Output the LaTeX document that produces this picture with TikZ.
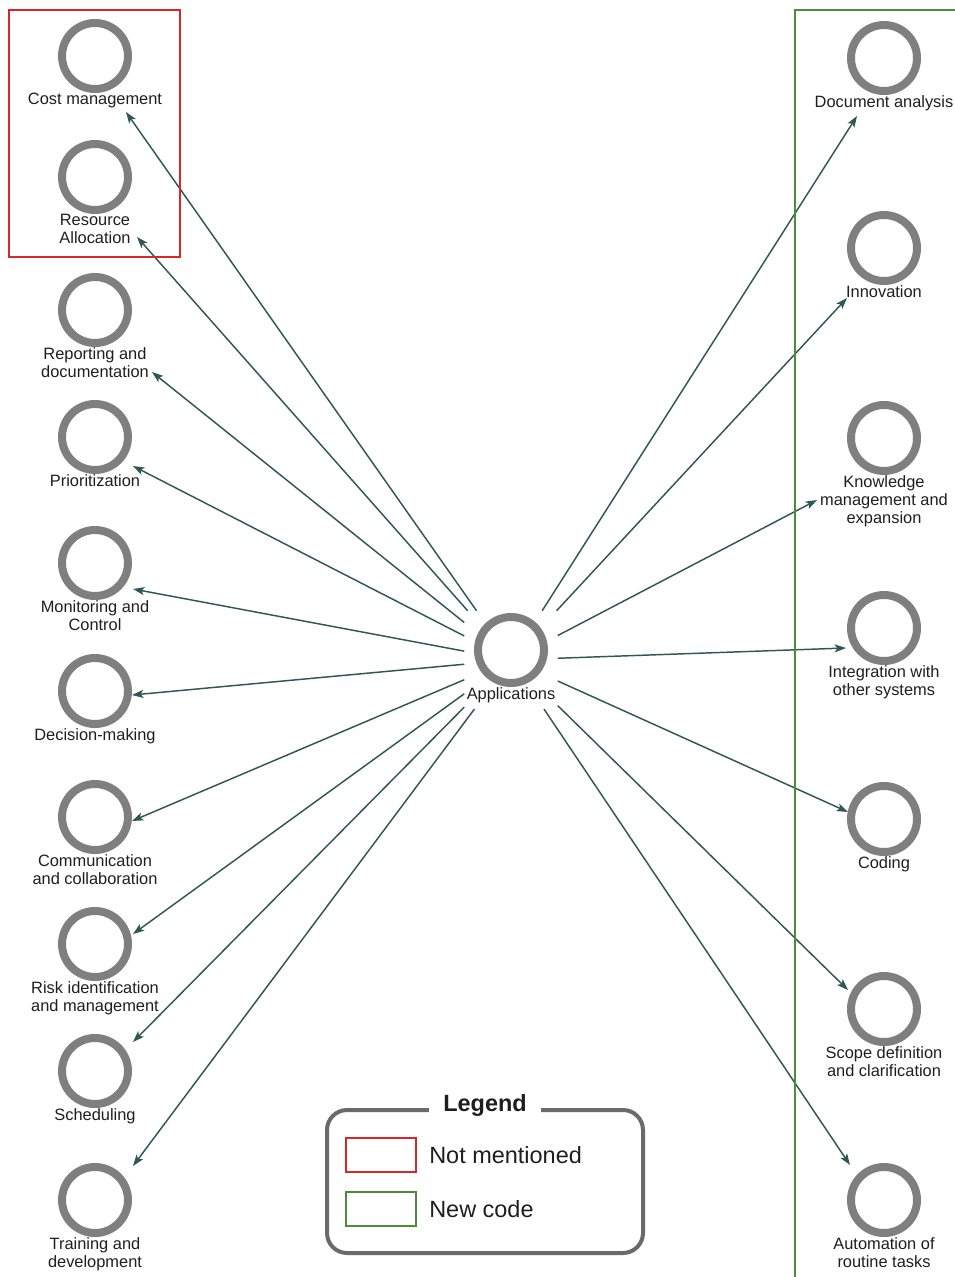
\documentclass[tikz,border=0pt]{standalone}
\usepackage{fontspec}
\setmainfont{Liberation Sans}
\usetikzlibrary{arrows.meta,fit,positioning}

\definecolor{ringgray}{HTML}{7F7F7F}
\definecolor{linkcol}{HTML}{2F5855}
\definecolor{notred}{HTML}{D9262B}
\definecolor{newgreen}{HTML}{4C8C3C}
\definecolor{legendgray}{HTML}{6A6A6A}
\definecolor{labeltext}{HTML}{1E1E1E}

\newcommand\lblfont{\fontsize{12.3}{13.5}\selectfont}
\newcommand\legfont{\fontsize{17.6}{20}\selectfont}

\tikzset{
  ring/.style={circle, draw=ringgray, line width=6pt, minimum size=49.5pt,
    inner sep=0pt, outer sep=0pt, fill=white},
  lbl/.style={font=\lblfont, text=labeltext, align=center, inner sep=0pt},
  code/.style={ring, label={[lbl, label distance=3pt]below:{#1}}},
  link/.style={draw=linkcol, line width=1.1pt, -{Stealth[length=8.5pt,width=6pt,inset=2pt]}},
  swatch/.style={draw=#1, line width=1.5pt, minimum width=52.5pt, minimum height=26pt, inner sep=0pt},
  legtext/.style={font=\legfont, text=labeltext, inner sep=0pt, anchor=west},
}

\begin{document}
\begin{tikzpicture}[x=0.75pt, y=-0.75pt]
\useasboundingbox (0,0) rectangle (955,1277);
\clip (0,0) rectangle (955,1277);

% central code and the box that holds it with its name
\node[ring] (app) at (511,650) {};
\node[lbl, anchor=north] (app-text) at ([yshift=-3pt]app.south) {Applications};
\node[fit=(app)(app-text), inner xsep=1.5pt, inner ysep=4.5pt] (hub) {};

% left column
\node[code={Cost management}] (cost) at (95,56) {};
\node[code={Resource\\Allocation}] (resource) at (95,177) {};
\node[code={Reporting and\\documentation}] (reporting) at (95,310) {};
\node[code={Prioritization}] (prioritization) at (95,437) {};
\node[code={Monitoring and\\Control}] (monitoring) at (95,563) {};
\node[code={Decision-making}] (decision) at (95,691) {};
\node[code={Communication\\and collaboration}] (communication) at (95,817) {};
\node[code={Risk identification\\and management}] (risk) at (95,944) {};
\node[code={Scheduling}] (scheduling) at (95,1071) {};
\node[code={Training and\\development}] (training) at (95,1200) {};

% right column
\node[code={Document analysis}] (docanalysis) at (884,58) {};
\node[code={Innovation}] (innovation) at (884,248) {};
\node[code={Knowledge\\management and\\expansion}] (knowledge) at (884,438) {};
\node[code={Integration with\\other systems}] (integration) at (884,628) {};
\node[code={Coding}] (coding) at (884,819) {};
\node[code={Scope definition\\and clarification}] (scopedef) at (884,1009) {};
\node[code={Automation of\\routine tasks}] (automation) at (884,1200) {};

% arrow ends next to each code
\coordinate (cost-in) at (126,112);
\coordinate (resource-in) at (137,237);
\coordinate (reporting-in) at (152,372);
\coordinate (prioritization-in) at (133,466);
\coordinate (monitoring-in) at (133,589);
\coordinate (decision-in) at (132,695);
\coordinate (communication-in) at (132,821);
\coordinate (risk-in) at (133,934);
\coordinate (scheduling-in) at (133,1042);
\coordinate (training-in) at (133,1166);
\coordinate (docanalysis-in) at (857,116);
\coordinate (innovation-in) at (847,298);
\coordinate (knowledge-in) at (817,500);
\coordinate (integration-in) at (846,648);
\coordinate (coding-in) at (848,812);
\coordinate (scopedef-in) at (848,990);
\coordinate (automation-in) at (850,1165);

\foreach \t in {cost,resource,reporting,prioritization,monitoring,decision,
  communication,risk,scheduling,training,docanalysis,innovation,knowledge,
  integration,coding,scopedef,automation}
  \draw[link] (hub) -- (\t-in);

% group frames
\draw[notred, line width=1.5pt] (9,10) rectangle (180,257);
\draw[newgreen, line width=1.5pt] (970,10) -- (795,10) -- (795,1290);

% legend
\node[draw=legendgray, line width=3pt, rounded corners=15pt,
  minimum width=237pt, minimum height=107.25pt, inner sep=0pt] (legend) at (485,1181.5) {};
\node[fill=white, inner xsep=11pt, inner ysep=1pt, font=\legfont\bfseries, text=labeltext]
  (legend-title) at ([yshift=2pt]legend.north) {Legend};
\node[swatch=notred] (not-swatch) at (381,1155) {};
\node[legtext, right=9pt of not-swatch] (not-text) {Not mentioned};
\node[swatch=newgreen] (new-swatch) at (381,1209) {};
\node[legtext, right=9pt of new-swatch] (new-text) {New code};
\end{tikzpicture}
\end{document}
